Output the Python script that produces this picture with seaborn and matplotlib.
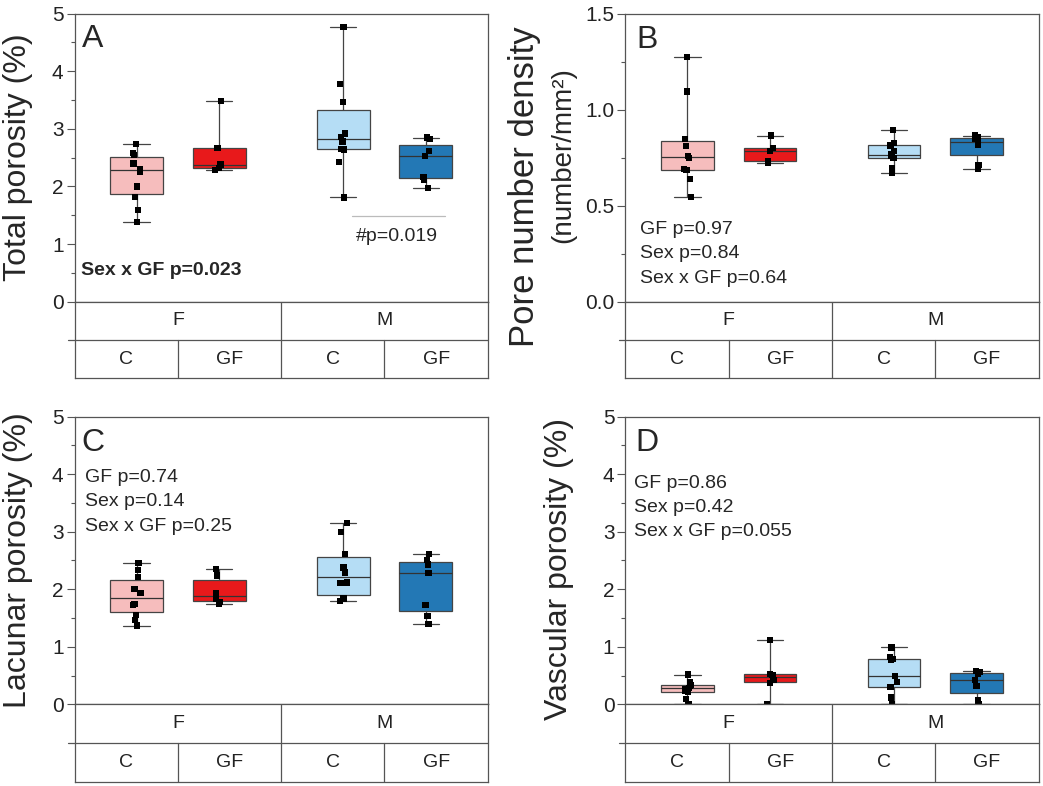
import numpy as np
import pandas as pd
import seaborn as sns
import matplotlib.pyplot as plt
from matplotlib.ticker import MultipleLocator

sns.set_style("ticks")
plt.rcParams['font.family'] = ['Liberation Sans', 'DejaVu Sans']
np.random.seed(3)

sexes = ["F", "M"]
groups = ["C", "GF"]

# total porosity (%)
tp_fc = [1.38, 1.59, 1.82, 2.00, 2.26, 2.30, 2.40, 2.54, 2.58, 2.74]
tp_fgf = [2.28, 2.32, 2.38, 2.67, 3.49]
tp_mc = [1.81, 2.42, 2.64, 2.65, 2.78, 2.86, 2.92, 3.47, 3.78, 4.77]
tp_mgf = [1.97, 2.12, 2.17, 2.53, 2.62, 2.82, 2.85]

# pore number density (number/mm2)
pnd_fc = [0.547, 0.639, 0.686, 0.691, 0.748, 0.760, 0.809, 0.847, 1.095, 1.273]
pnd_fgf = [0.722, 0.731, 0.786, 0.802, 0.865]
pnd_mc = [0.672, 0.694, 0.747, 0.758, 0.766, 0.786, 0.814, 0.825, 0.896]
pnd_mgf = [0.691, 0.712, 0.816, 0.832, 0.849, 0.858, 0.865]

# lacunar porosity (%)
lp_fc = [1.37, 1.47, 1.56, 1.73, 1.75, 1.94, 2.00, 2.21, 2.34, 2.46]
lp_fgf = [1.74, 1.78, 1.84, 1.94, 2.24, 2.35]
lp_mc = [1.80, 1.80, 1.84, 2.11, 2.12, 2.29, 2.38, 2.61, 3.00, 3.15]
lp_mgf = [1.40, 1.53, 1.73, 2.28, 2.43, 2.51, 2.61]

# vascular porosity (%)
vp_fc = [0.01, 0.10, 0.22, 0.24, 0.27, 0.29, 0.32, 0.34, 0.39, 0.52]
vp_fgf = [0.01, 0.37, 0.43, 0.51, 0.53, 1.12]
vp_mc = [0.01, 0.12, 0.31, 0.39, 0.50, 0.77, 0.79, 0.83, 0.99]
vp_mgf = [0.01, 0.08, 0.32, 0.42, 0.53, 0.56, 0.58]

stats_b = ["GF p=0.97", "Sex p=0.84", "Sex x GF p=0.64"]
stats_c = ["GF p=0.74", "Sex p=0.14", "Sex x GF p=0.25"]
stats_d = ["GF p=0.86", "Sex p=0.42", "Sex x GF p=0.055"]

pal_f = ["#F6BDBD", "#E8191B"]
pal_m = ["#B5DDF5", "#2378B5"]
edge = "#555555"


def make_df(fc, fgf, mc, mgf):
    rows = []
    for sex, grp, vals in [("F", "C", fc), ("F", "GF", fgf), ("M", "C", mc), ("M", "GF", mgf)]:
        for v in vals:
            rows.append((sex, grp, v))
    return pd.DataFrame(rows, columns=["sex", "group", "value"])


def box_panel(ax, df, ymax, major, minor):
    for sex, pal in [("F", pal_f), ("M", pal_m)]:
        sub = df[df["sex"] == sex]
        sns.boxplot(data=sub, x="sex", y="value", hue="group", order=sexes,
                    hue_order=groups, palette=pal, saturation=1, whis=(0, 100),
                    width=0.8, gap=0.36, linecolor="#444444", linewidth=0.9,
                    showfliers=False, legend=False, ax=ax,
                    medianprops=dict(color="#333333", linewidth=0.9))
        sns.stripplot(data=sub, x="sex", y="value", hue="group", order=sexes,
                      hue_order=groups, palette=["black", "black"], dodge=True,
                      jitter=0.04, marker="s", size=4.5, legend=False, ax=ax, zorder=5)
    ax.set_xlim(-0.5, 1.5)
    ax.set_ylim(0, ymax)
    ax.set_xticks([])
    ax.set_xlabel("")
    ax.yaxis.set_major_locator(MultipleLocator(major))
    ax.yaxis.set_minor_locator(MultipleLocator(minor))
    ax.tick_params(axis="y", which="major", direction="out", length=6, width=0.8,
                   color=edge, labelsize=15, pad=2, labelcolor="#222222")
    ax.tick_params(axis="y", which="minor", direction="out", length=3, width=0.8, color=edge)
    for s in ax.spines.values():
        s.set_visible(True)
        s.set_color(edge)
        s.set_linewidth(0.9)


def cat_table(tax):
    tax.set_xlim(-0.5, 1.5)
    tax.set_ylim(0, 2)
    tax.set_xticks([])
    tax.set_yticks([])
    for s in tax.spines.values():
        s.set_color(edge)
        s.set_linewidth(0.9)
    tax.plot([-0.53, 1.5], [1, 1], color=edge, lw=0.9, clip_on=False)
    tax.axvline(0.5, color=edge, lw=0.9)
    for i, s in enumerate(sexes):
        tax.plot([i, i], [0, 1], color=edge, lw=0.9)
        tax.text(i, 1.5, s, ha="center", va="center", fontsize=14, color="#222222")
        for j, g in enumerate(groups):
            tax.text(i - 0.25 + 0.5 * j, 0.5, g, ha="center", va="center",
                     fontsize=14, color="#222222")


fig = plt.figure(figsize=(10.43, 7.86), dpi=100)

lefts = [0.0716, 0.5997]
w = 0.396
tops = [(0.6162, 0.5187), (0.1037, 0.0051)]
h_main = 0.3664

axes = {}
for r, (b_main, b_tab) in enumerate(tops):
    for c, l in enumerate(lefts):
        ax = fig.add_axes([l, b_main, w, h_main])
        tax = fig.add_axes([l, b_tab, w, b_main - b_tab])
        cat_table(tax)
        axes[(r, c)] = ax

# A
ax = axes[(0, 0)]
box_panel(ax, make_df(tp_fc, tp_fgf, tp_mc, tp_mgf), 5, 1, 0.5)
ax.set_ylabel("Total porosity (%)", fontsize=23)
ax.yaxis.set_label_coords(-0.1, 0.5)
ax.text(0.017, 0.965, "A", transform=ax.transAxes, fontsize=23, ha="left", va="top")
ax.text(0.015, 0.108, "Sex x GF p=0.023", transform=ax.transAxes, fontsize=14,
        fontweight="bold", ha="left", va="center")
ax.plot([0.671, 0.896], [0.2976, 0.2976], transform=ax.transAxes, color="#BBBBBB", lw=0.9)
ax.text(0.781, 0.228, "#p=0.019", transform=ax.transAxes, fontsize=14, ha="center", va="center")

# B
ax = axes[(0, 1)]
box_panel(ax, make_df(pnd_fc, pnd_fgf, pnd_mc, pnd_mgf), 1.5, 0.5, 0.25)
ax.set_ylabel("Pore number density", fontsize=25)
ax.yaxis.set_label_coords(-0.205, 0.4)
ax.text(-0.151, 0.51, "(number/mm²)", transform=ax.transAxes, rotation=90,
        fontsize=20, ha="center", va="center")
ax.text(0.027, 0.96, "B", transform=ax.transAxes, fontsize=23, ha="left", va="top")
for k, t in enumerate(stats_b):
    ax.text(0.035, 0.251 - 0.085 * k, t, transform=ax.transAxes, fontsize=14,
            ha="left", va="center")

# C
ax = axes[(1, 0)]
box_panel(ax, make_df(lp_fc, lp_fgf, lp_mc, lp_mgf), 5, 1, 0.5)
ax.set_ylabel("Lacunar porosity (%)", fontsize=23)
ax.yaxis.set_label_coords(-0.1, 0.5)
ax.text(0.017, 0.96, "C", transform=ax.transAxes, fontsize=23, ha="left", va="top")
for k, t in enumerate(stats_c):
    ax.text(0.026, 0.789 - 0.085 * k, t, transform=ax.transAxes, fontsize=14,
            ha="left", va="center")

# D
ax = axes[(1, 1)]
box_panel(ax, make_df(vp_fc, vp_fgf, vp_mc, vp_mgf), 5, 1, 0.5)
ax.set_ylabel("Vascular porosity (%)", fontsize=23)
ax.yaxis.set_label_coords(-0.125, 0.47)
ax.text(0.023, 0.96, "D", transform=ax.transAxes, fontsize=23, ha="left", va="top")
for k, t in enumerate(stats_d):
    ax.text(0.0206, 0.769 - 0.085 * k, t, transform=ax.transAxes, fontsize=14,
            ha="left", va="center")

fig.savefig("out.png", dpi=100, facecolor="white")
